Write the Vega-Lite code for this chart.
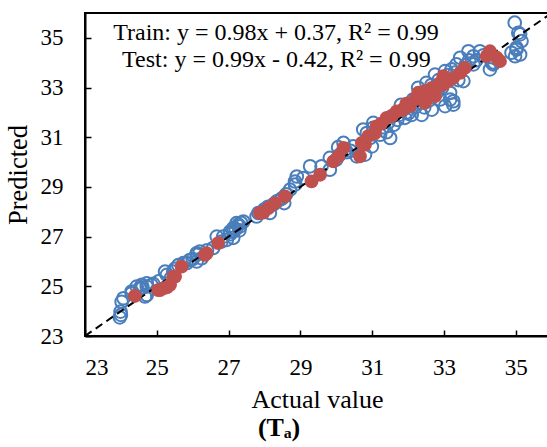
{
  "$schema": "https://vega.github.io/schema/vega-lite/v6.json",
  "width": 464,
  "height": 323,
  "autosize": "none",
  "padding": {"left": 85, "top": 13, "right": 0, "bottom": 111},
  "background": "white",
  "config": {
    "view": {"stroke": "black", "strokeWidth": 2},
    "font": "Liberation Serif"
  },
  "title": {"text": "(Tₐ)", "orient": "bottom", "anchor": "middle", "dx": -38, "font": "Liberation Serif", "fontSize": 26, "fontWeight": "bold", "color": "black", "offset": 3},
  "datasets": {
    "train": [
      {"actual": 23.97, "predicted": 23.75}, {"actual": 23.99, "predicted": 23.98}, {"actual": 24.0, "predicted": 23.85},
      {"actual": 24.02, "predicted": 24.38}, {"actual": 24.07, "predicted": 24.52}, {"actual": 24.30, "predicted": 24.79},
      {"actual": 24.30, "predicted": 24.72}, {"actual": 24.44, "predicted": 24.99}, {"actual": 24.53, "predicted": 24.92},
      {"actual": 24.58, "predicted": 25.06}, {"actual": 24.67, "predicted": 24.59}, {"actual": 24.72, "predicted": 25.12},
      {"actual": 24.72, "predicted": 24.65}, {"actual": 24.72, "predicted": 24.99}, {"actual": 24.85, "predicted": 25.05},
      {"actual": 24.6, "predicted": 24.95}, {"actual": 24.9, "predicted": 25.1},
      {"actual": 25.05, "predicted": 25.2}, {"actual": 25.23, "predicted": 25.59}, {"actual": 25.28, "predicted": 25.46},
      {"actual": 25.46, "predicted": 25.59}, {"actual": 25.40, "predicted": 25.35}, {"actual": 25.5, "predicted": 25.7},
      {"actual": 25.6, "predicted": 25.85}, {"actual": 25.74, "predicted": 25.93},
      {"actual": 25.83, "predicted": 25.93}, {"actual": 25.92, "predicted": 26.06}, {"actual": 26.0, "predicted": 26.1},
      {"actual": 26.11, "predicted": 26.0},
      {"actual": 26.11, "predicted": 26.27}, {"actual": 26.11, "predicted": 26.33}, {"actual": 26.2, "predicted": 26.4},
      {"actual": 26.25, "predicted": 26.13}, {"actual": 26.4, "predicted": 26.45}, {"actual": 26.57, "predicted": 26.54},
      {"actual": 26.67, "predicted": 27.0}, {"actual": 26.8, "predicted": 26.8},
      {"actual": 26.85, "predicted": 27.0}, {"actual": 26.95, "predicted": 26.87}, {"actual": 27.04, "predicted": 27.2},
      {"actual": 27.05, "predicted": 27.1}, {"actual": 27.2, "predicted": 27.3}, {"actual": 27.35, "predicted": 27.55},
      {"actual": 27.3, "predicted": 27.25},
      {"actual": 27.13, "predicted": 27.2}, {"actual": 27.13, "predicted": 27.34}, {"actual": 27.13, "predicted": 26.95},
      {"actual": 27.22, "predicted": 27.54}, {"actual": 27.27, "predicted": 27.48}, {"actual": 27.32, "predicted": 27.41},
      {"actual": 27.41, "predicted": 27.61}, {"actual": 27.78, "predicted": 27.81}, {"actual": 27.83, "predicted": 27.95},
      {"actual": 27.97, "predicted": 28.01}, {"actual": 28.0, "predicted": 28.1}, {"actual": 28.1, "predicted": 28.2},
      {"actual": 28.25, "predicted": 28.3}, {"actual": 28.5, "predicted": 28.55}, {"actual": 28.6, "predicted": 28.7},
      {"actual": 28.15, "predicted": 27.95}, {"actual": 28.34, "predicted": 28.42},
      {"actual": 28.45, "predicted": 28.5}, {"actual": 28.55, "predicted": 28.35}, {"actual": 28.71, "predicted": 28.89},
      {"actual": 28.85, "predicted": 29.09}, {"actual": 28.85, "predicted": 29.22}, {"actual": 28.9, "predicted": 29.42},
      {"actual": 29.08, "predicted": 29.36}, {"actual": 29.27, "predicted": 29.83}, {"actual": 29.59, "predicted": 29.83},
      {"actual": 29.82, "predicted": 29.69}, {"actual": 29.82, "predicted": 30.17}, {"actual": 30.0, "predicted": 30.1},
      {"actual": 30.1, "predicted": 30.3}, {"actual": 30.3, "predicted": 30.4}, {"actual": 30.05, "predicted": 30.6},
      {"actual": 30.4, "predicted": 30.45},
      {"actual": 30.2, "predicted": 30.77}, {"actual": 30.24, "predicted": 30.5}, {"actual": 30.47, "predicted": 30.63},
      {"actual": 30.57, "predicted": 30.23}, {"actual": 30.8, "predicted": 30.3}, {"actual": 30.99, "predicted": 30.63},
      {"actual": 30.85, "predicted": 31.17}, {"actual": 31.03, "predicted": 31.38}, {"actual": 30.75, "predicted": 31.31},
      {"actual": 30.94, "predicted": 30.97}, {"actual": 31.03, "predicted": 31.58}, {"actual": 31.22, "predicted": 31.1},
      {"actual": 31.3, "predicted": 31.4}, {"actual": 31.4, "predicted": 31.2}, {"actual": 31.45, "predicted": 31.6},
      {"actual": 31.5, "predicted": 30.97}, {"actual": 31.54, "predicted": 31.84}, {"actual": 31.6, "predicted": 31.5},
      {"actual": 31.7, "predicted": 31.7}, {"actual": 31.8, "predicted": 32.3}, {"actual": 31.95, "predicted": 32.0},
      {"actual": 31.75, "predicted": 31.9}, {"actual": 31.87, "predicted": 32.11}, {"actual": 31.91, "predicted": 31.78},
      {"actual": 32.0, "predicted": 31.95}, {"actual": 32.1, "predicted": 31.9}, {"actual": 32.14, "predicted": 32.52},
      {"actual": 32.2, "predicted": 32.2}, {"actual": 32.3, "predicted": 32.4}, {"actual": 32.35, "predicted": 32.75},
      {"actual": 32.28, "predicted": 32.99}, {"actual": 32.38, "predicted": 31.9}, {"actual": 32.4, "predicted": 32.5},
      {"actual": 32.45, "predicted": 32.2}, {"actual": 32.6, "predicted": 32.5}, {"actual": 32.65, "predicted": 33.1},
      {"actual": 32.51, "predicted": 33.19}, {"actual": 32.55, "predicted": 32.7}, {"actual": 32.66, "predicted": 32.11},
      {"actual": 32.75, "predicted": 33.52}, {"actual": 32.7, "predicted": 32.9}, {"actual": 32.89, "predicted": 32.52},
      {"actual": 32.8, "predicted": 32.8}, {"actual": 32.85, "predicted": 33.3}, {"actual": 32.95, "predicted": 33.0},
      {"actual": 33.03, "predicted": 33.66}, {"actual": 33.03, "predicted": 32.25}, {"actual": 33.17, "predicted": 32.79},
      {"actual": 33.17, "predicted": 32.52}, {"actual": 33.21, "predicted": 33.73}, {"actual": 33.26, "predicted": 32.45},
      {"actual": 33.1, "predicted": 33.5}, {"actual": 33.3, "predicted": 33.6}, {"actual": 33.4, "predicted": 33.3},
      {"actual": 33.26, "predicted": 32.31}, {"actual": 33.35, "predicted": 33.93}, {"actual": 33.45, "predicted": 34.2},
      {"actual": 33.54, "predicted": 33.26}, {"actual": 33.68, "predicted": 34.46}, {"actual": 33.82, "predicted": 34.26},
      {"actual": 33.6, "predicted": 33.9}, {"actual": 33.7, "predicted": 34.1}, {"actual": 33.9, "predicted": 34.1},
      {"actual": 33.82, "predicted": 33.93}, {"actual": 34.0, "predicted": 34.46}, {"actual": 34.28, "predicted": 33.73},
      {"actual": 34.1, "predicted": 34.3}, {"actual": 34.4, "predicted": 34.0},
      {"actual": 34.33, "predicted": 34.0}, {"actual": 34.37, "predicted": 33.93}, {"actual": 34.88, "predicted": 34.4},
      {"actual": 34.98, "predicted": 34.26}, {"actual": 35.02, "predicted": 34.53}, {"actual": 35.02, "predicted": 34.6},
      {"actual": 35.07, "predicted": 35.2}, {"actual": 35.12, "predicted": 35.14}, {"actual": 35.12, "predicted": 34.33},
      {"actual": 35.16, "predicted": 34.87}, {"actual": 34.97, "predicted": 35.61}
    ],
    "test": [
      {"actual": 24.39, "predicted": 24.61}, {"actual": 25.04, "predicted": 24.85}, {"actual": 25.09, "predicted": 24.85},
      {"actual": 25.18, "predicted": 24.92}, {"actual": 25.28, "predicted": 24.96}, {"actual": 25.37, "predicted": 25.06},
      {"actual": 25.46, "predicted": 25.39}, {"actual": 25.51, "predicted": 25.39}, {"actual": 25.69, "predicted": 25.79},
      {"actual": 26.34, "predicted": 26.27}, {"actual": 26.39, "predicted": 26.33}, {"actual": 26.71, "predicted": 26.74},
      {"actual": 27.87, "predicted": 27.95}, {"actual": 27.97, "predicted": 27.97}, {"actual": 28.11, "predicted": 28.15},
      {"actual": 28.29, "predicted": 28.35}, {"actual": 28.57, "predicted": 28.62}, {"actual": 29.31, "predicted": 29.22},
      {"actual": 29.55, "predicted": 29.49}, {"actual": 29.92, "predicted": 30.03}, {"actual": 30.06, "predicted": 30.23},
      {"actual": 30.2, "predicted": 30.57}, {"actual": 30.66, "predicted": 30.23}, {"actual": 30.71, "predicted": 30.77},
      {"actual": 30.8, "predicted": 30.7}, {"actual": 30.89, "predicted": 31.04}, {"actual": 31.08, "predicted": 31.17},
      {"actual": 31.12, "predicted": 31.44}, {"actual": 31.25, "predicted": 31.55}, {"actual": 31.4, "predicted": 31.78},
      {"actual": 31.55, "predicted": 31.85},
      {"actual": 31.68, "predicted": 32.04}, {"actual": 31.85, "predicted": 32.1}, {"actual": 31.95, "predicted": 32.35},
      {"actual": 32.05, "predicted": 32.25},
      {"actual": 32.19, "predicted": 32.52}, {"actual": 32.28, "predicted": 32.79}, {"actual": 32.35, "predicted": 32.55},
      {"actual": 32.47, "predicted": 32.38},
      {"actual": 32.47, "predicted": 32.85}, {"actual": 32.55, "predicted": 32.6}, {"actual": 32.66, "predicted": 32.99},
      {"actual": 32.75, "predicted": 32.65}, {"actual": 32.8, "predicted": 33.0},
      {"actual": 32.89, "predicted": 33.19}, {"actual": 32.98, "predicted": 33.46}, {"actual": 32.98, "predicted": 33.12},
      {"actual": 33.12, "predicted": 33.26}, {"actual": 33.26, "predicted": 33.39}, {"actual": 33.45, "predicted": 33.59},
      {"actual": 33.58, "predicted": 33.79}, {"actual": 34.19, "predicted": 34.26}, {"actual": 34.28, "predicted": 34.46},
      {"actual": 34.47, "predicted": 34.2}, {"actual": 34.56, "predicted": 34.06}
    ],
    "diag": [{"actual": 23, "predicted": 23}, {"actual": 36, "predicted": 36}],
    "labels": [
      {"label": "Train: y = 0.98x + 0.37, R² = 0.99", "lx": 28.32, "ly": 34.93},
      {"label": "Test: y = 0.99x - 0.42, R² = 0.99", "lx": 28.33, "ly": 33.84}
    ]
  },
  "encoding": {
    "x": {"field": "actual", "type": "quantitative",
      "scale": {"domain": [23, 35.925], "nice": false, "zero": false},
      "axis": {"title": "Actual value", "values": [23, 25, 27, 29, 31, 33, 35], "grid": false,
        "domainColor": "black", "domainWidth": 2, "tickColor": "black", "tickWidth": 1.5, "tickSize": -6,
        "labelFont": "Liberation Serif", "labelFontSize": 23, "labelColor": "black", "labelPadding": 26,
        "titleFont": "Liberation Serif", "titleFontSize": 26, "titleFontWeight": "normal", "titleColor": "black", "titlePadding": 7}},
    "y": {"field": "predicted", "type": "quantitative",
      "scale": {"domain": [23, 36], "nice": false, "zero": false},
      "axis": {"title": "Predicted", "values": [23, 25, 27, 29, 31, 33, 35], "grid": false,
        "domainColor": "black", "domainWidth": 2, "tickColor": "black", "tickWidth": 1.5, "tickSize": -6,
        "labelFont": "Liberation Serif", "labelFontSize": 23, "labelColor": "black", "labelPadding": 28,
        "titleFont": "Liberation Serif", "titleFontSize": 26.5, "titleFontWeight": "normal", "titleColor": "black", "titlePadding": 8}}
  },
  "layer": [
    {"data": {"name": "train"}, "mark": {"type": "point", "shape": "circle", "filled": false, "stroke": "#4a7ebb", "strokeWidth": 2, "size": 160, "opacity": 1}},
    {"data": {"name": "diag"}, "mark": {"type": "line", "color": "black", "strokeWidth": 2, "strokeDash": [8, 5], "clip": true}},
    {"data": {"name": "test"}, "mark": {"type": "point", "shape": "circle", "filled": true, "fill": "#c0504d", "strokeWidth": 0, "size": 190, "opacity": 1}},
    {"data": {"name": "labels"}, "mark": {"type": "text", "font": "Liberation Serif", "fontSize": 24, "color": "black", "align": "center", "baseline": "alphabetic"},
      "encoding": {"x": {"field": "lx", "type": "quantitative"}, "y": {"field": "ly", "type": "quantitative"}, "text": {"field": "label"}}}
  ]
}
